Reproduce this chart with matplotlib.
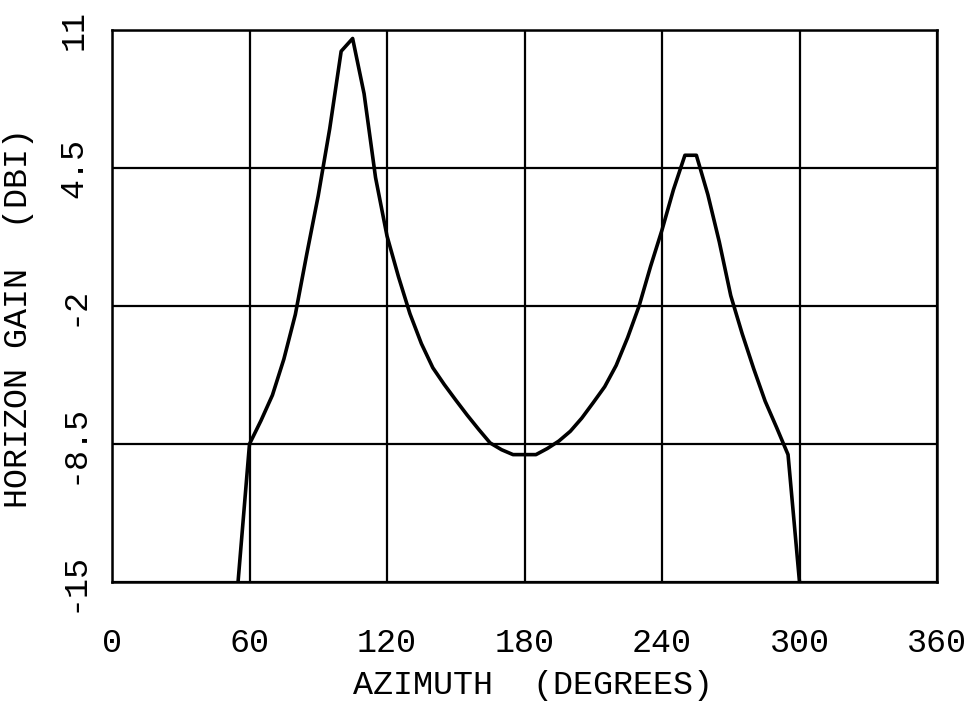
import matplotlib
matplotlib.use("Agg")
from matplotlib import pyplot as plt

# horizon gain pattern, every 5 degrees
azimuth = list(range(55, 305, 5))
gain_dbi = [-15.0, -8.5, -7.4, -6.2, -4.5, -2.4, 0.45, 3.2, 6.35, 10.0,
            10.6, 8.0, 4.05, 1.3, -0.62, -2.36, -3.77, -4.91, -5.7, -6.43,
            -7.14, -7.81, -8.45, -8.77, -9.0, -9.0, -9.0, -8.71, -8.36, -7.9,
            -7.28, -6.55, -5.8, -4.8, -3.49, -2.0, -0.14, 1.58, 3.48, 5.1,
            5.1, 3.25, 1.02, -1.51, -3.31, -4.95, -6.48, -7.72, -9.0, -15.0]

x_ticks = [0, 60, 120, 180, 240, 300, 360]
y_ticks = [-15, -8.5, -2, 4.5, 11]
y_labels = ["-15", "-8.5", "-2", "4.5", "11"]

plt.rcParams['font.family'] = ['Liberation Mono', 'DejaVu Sans Mono']

fig = plt.figure(figsize=(9.72, 7.03), dpi=100)
ax = fig.add_axes([112 / 972, 1 - 582 / 703, 825 / 972, 552 / 703])

ax.plot(azimuth, gain_dbi, color='black', lw=2.6)

ax.set_xlim(0, 360)
ax.set_ylim(-15, 11)
ax.set_xticks(x_ticks)
ax.set_yticks(y_ticks)
ax.set_yticklabels(y_labels, rotation=90, va='center')
ax.grid(True, color='black', lw=1.6)
for s in ax.spines.values():
    s.set_linewidth(1.8)

ax.tick_params(axis='x', length=0, pad=33, labelsize=24)
ax.tick_params(axis='y', length=0, pad=16, labelsize=24)

ax.set_xlabel("AZIMUTH  (DEGREES)", fontsize=24)
ax.set_ylabel("HORIZON GAIN  (DBI)", fontsize=24)
ax.xaxis.set_label_coords(0.51, -0.16)
ax.yaxis.set_label_coords(-0.095, 0.478)

plt.savefig("out.png", dpi=100)
